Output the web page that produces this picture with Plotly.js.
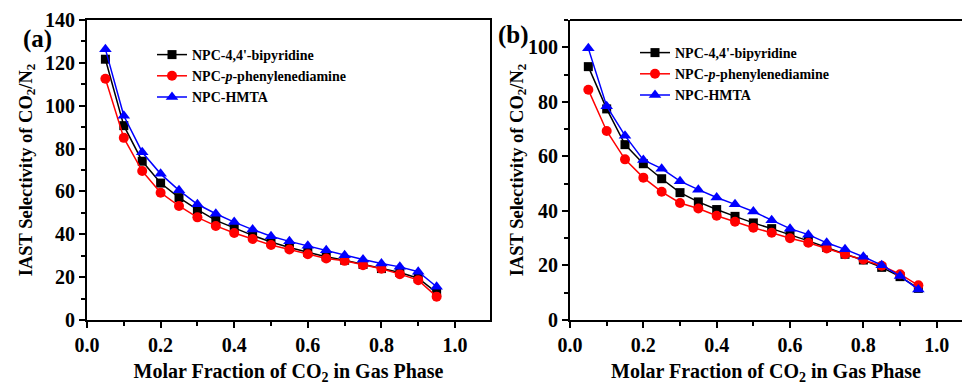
<!DOCTYPE html>
<html><head><meta charset="utf-8">
<script src="https://cdn.plot.ly/plotly-3.0.1.min.js"></script>
<style>html,body{margin:0;padding:0;background:#fff}#c{width:962px;height:385px}</style>
</head><body><div id="c"></div>
<script>
const xFrac = [0.05,0.10,0.15,0.20,0.25,0.30,0.35,0.40,0.45,0.50,0.55,0.60,0.65,0.70,0.75,0.80,0.85,0.90,0.95];
// Panel (a)
const aBipy = [121.7,90.7,74.1,63.9,57.1,51.5,46.5,42.9,39.5,36.4,33.8,31.6,29.5,27.9,25.9,24.0,22.2,19.5,12.8];
const aPPD  = [112.6,85.0,69.5,59.4,53.2,47.9,43.9,40.6,37.8,35.0,32.9,30.7,28.7,27.6,25.6,23.9,21.4,18.6,10.9];
const aHMTA = [126.4,95.3,78.3,68.2,60.5,54.0,49.6,45.7,42.2,39.1,36.7,34.6,32.6,30.2,28.2,26.4,24.8,22.5,15.5];
// Panel (b)
const bBipy = [92.9,77.4,64.3,57.3,51.8,46.7,43.3,40.5,38.0,35.6,33.5,31.3,29.0,26.6,24.1,22.0,19.3,15.9,11.6];
const bPPD  = [84.4,69.3,58.9,52.2,47.0,42.9,40.9,38.2,36.0,33.8,32.0,30.0,28.3,26.2,24.1,22.2,19.9,16.8,12.7];
const bHMTA = [99.6,78.4,67.6,58.7,55.5,50.9,47.8,44.9,42.4,39.8,36.6,33.5,31.3,28.3,25.9,23.2,20.1,16.1,11.2];
const names = ["NPC-4,4'-bipyridine","NPC-<i>p</i>-phenylenediamine","NPC-HMTA"];
const panelLabels = ["(a)","(b)"];

const FONT = "Liberation Serif, Times New Roman, serif";
const styles = [
  {color:'#000000', symbol:'square', size:9},
  {color:'#ff0000', symbol:'circle', size:10},
  {color:'#0000ff', symbol:'triangle-up', size:11}
];
function mk(y, i, xa, ya, leg){
  const s = styles[i];
  return {x:xFrac, y:y, name:names[i], type:'scatter', mode:'lines+markers',
    xaxis:xa, yaxis:ya, legend:leg,
    line:{color:s.color, width:1.5},
    marker:{color:s.color, symbol:s.symbol, size:s.size, line:{width:0}}};
}
const data = [
  mk(aBipy,0,'x','y','legend'), mk(aPPD,1,'x','y','legend'), mk(aHMTA,2,'x','y','legend'),
  mk(bBipy,0,'x2','y2','legend2'), mk(bPPD,1,'x2','y2','legend2'), mk(bHMTA,2,'x2','y2','legend2')
];
const tickFont = {family:FONT, size:20, color:'#000', weight:'bold'};
const xTitleFont = {family:FONT, size:20, color:'#000', weight:'bold'};
const yTitleFont = {family:FONT, size:18.5, color:'#000', weight:'bold'};
function xax(domain, range, mirror){
  return {domain:domain, range:range, showgrid:false, zeroline:false, showline:true, linewidth:2, linecolor:'#000',
    mirror:mirror, ticks:'outside', ticklen:6, tickwidth:2, tickcolor:'#000', dtick:0.2, tick0:0, tickformat:'.1f',
    minor:{dtick:0.1, ticks:'outside', ticklen:4, tickwidth:2, tickcolor:'#000'},
    tickfont:tickFont,
    title:{text:'Molar Fraction of CO<sub>2</sub> in Gas Phase', font:xTitleFont, standoff:12}};
}
function yax(domain, range, anchor, mirror, standoff){
  return {domain:domain, range:range, anchor:anchor, showgrid:false, zeroline:false, showline:true, linewidth:2, linecolor:'#000',
    mirror:mirror, ticks:'outside', ticklen:6, tickwidth:2, tickcolor:'#000', dtick:20, tick0:0,
    minor:{dtick:10, ticks:'outside', ticklen:4, tickwidth:2, tickcolor:'#000'},
    tickfont:tickFont,
    title:{text:'IAST Selectivity of CO<sub>2</sub>/N<sub>2</sub>', font:yTitleFont, standoff:standoff}};
}
const yd = [1-320/385, 1-20/385];
const legFont = {family:FONT, size:14, color:'#000', weight:'bold'};
const layout = {
  width:962, height:385, margin:{l:0,r:0,t:0,b:0}, paper_bgcolor:'#fff', plot_bgcolor:'#fff',
  showlegend:true,
  xaxis: Object.assign(xax([87/962, 490/962],[0,1.095],true),{anchor:'y'}),
  yaxis: yax(yd,[0,140],'x',true,8),
  xaxis2: Object.assign(xax([570/962, 1],[0,1.069],false),{anchor:'y2'}),
  yaxis2: yax(yd,[0,110],'x2',false,0),
  legend:{x:152/962, y:1-39/385, xanchor:'left', yanchor:'top', font:legFont, bgcolor:'rgba(0,0,0,0)', tracegroupgap:0, itemwidth:30},
  legend2:{x:635/962, y:1-37/385, xanchor:'left', yanchor:'top', font:legFont, bgcolor:'rgba(0,0,0,0)', tracegroupgap:0, itemwidth:30},
  shapes:[{type:'line', xref:'paper', yref:'paper', x0:570/962, x1:1, y0:yd[1], y1:yd[1], line:{color:'#000', width:2}}],
  annotations:[
    {text:panelLabels[0], xref:'paper', yref:'paper', x:21/962, y:1-23/385, showarrow:false, font:{family:FONT,size:25,color:'#000',weight:'bold'}},
    {text:panelLabels[1], xref:'paper', yref:'paper', x:513/962, y:1-19/385, showarrow:false, font:{family:FONT,size:25,color:'#000',weight:'bold'}}
  ]
};
Plotly.newPlot('c', data, layout, {displayModeBar:false, staticPlot:true});
</script></body></html>
